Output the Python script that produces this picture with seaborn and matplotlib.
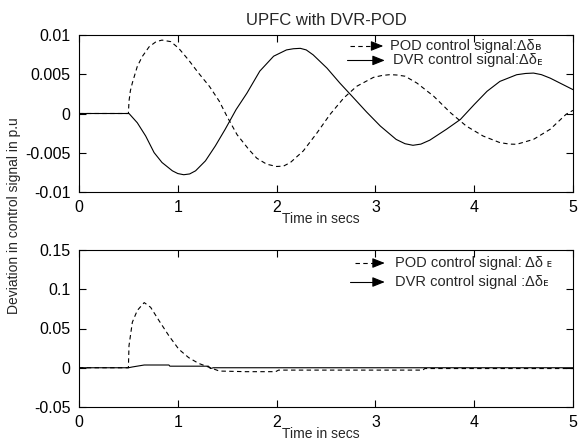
import matplotlib
matplotlib.use("Agg")
import matplotlib.pyplot as plt
import seaborn as sns
import pandas as pd

# ---------------- data ----------------
top_pod_t = [0, 0.5, 0.506, 0.52, 0.54, 0.59, 0.64, 0.71, 0.78, 0.84, 0.93, 1.01, 1.11,
             1.21, 1.32, 1.42, 1.50, 1.60, 1.72, 1.80, 1.90, 2.00, 2.07, 2.14, 2.27, 2.41,
             2.54, 2.68, 2.81, 2.98, 3.07, 3.15, 3.22, 3.30, 3.42, 3.59, 3.76, 3.92, 4.09,
             4.26, 4.36, 4.43, 4.60, 4.77, 4.93, 5.0]
top_pod_v = [0, 0, 1.56e-3, 2.9e-3, 3.9e-3, 6.0e-3, 7.25e-3, 8.5e-3, 9.15e-3, 9.35e-3,
             9.15e-3, 8.3e-3, 6.8e-3, 5.15e-3, 3.46e-3, 1.56e-3, -0.42e-3, -2.7e-3,
             -4.6e-3, -5.7e-3, -6.46e-3, -6.75e-3, -6.7e-3, -6.24e-3, -4.77e-3, -2.45e-3,
             -0.13e-3, 1.98e-3, 3.46e-3, 4.6e-3, 4.85e-3, 4.95e-3, 4.9e-3, 4.75e-3,
             3.88e-3, 2.2e-3, 0.1e-3, -1.6e-3, -2.87e-3, -3.71e-3, -3.9e-3, -3.92e-3,
             -3.3e-3, -2.0e-3, -0.1e-3, 0.4e-3]

top_dvr_t = [0, 0.5, 0.506, 0.59, 0.675, 0.76, 0.84, 0.945, 1.0, 1.06, 1.12, 1.18, 1.28,
             1.38, 1.48, 1.59, 1.70, 1.83, 1.97, 2.10, 2.17, 2.24, 2.30, 2.37, 2.51, 2.64,
             2.78, 2.91, 3.05, 3.21, 3.30, 3.38, 3.46, 3.55, 3.72, 3.86, 4.0, 4.13, 4.26,
             4.43, 4.52, 4.60, 4.68, 4.77, 5.0]
top_dvr_v = [0, 0, 0, -1.18e-3, -2.87e-3, -4.98e-3, -6.24e-3, -7.3e-3, -7.65e-3, -7.8e-3,
             -7.7e-3, -7.3e-3, -6.03e-3, -4.13e-3, -2.0e-3, 0.5e-3, 2.6e-3, 5.4e-3, 7.3e-3,
             8.1e-3, 8.25e-3, 8.3e-3, 8.1e-3, 7.47e-3, 5.78e-3, 3.88e-3, 1.98e-3, 0.2e-3,
             -1.6e-3, -3.3e-3, -3.85e-3, -4.05e-3, -3.9e-3, -3.4e-3, -2.0e-3, -0.76e-3,
             1.14e-3, 2.83e-3, 4.09e-3, 4.94e-3, 5.1e-3, 5.15e-3, 4.95e-3, 4.5e-3, 3.04e-3]

bot_pod_t = [0, 0.5, 0.506, 0.54, 0.59, 0.66, 0.725, 0.81, 0.91, 1.01, 1.11, 1.21,
             1.33, 1.42, 1.69, 1.99, 2.02, 3.48, 3.5, 5.0]
bot_pod_v = [0, 0, 0.028, 0.058, 0.073, 0.083, 0.077, 0.060, 0.0407, 0.0236, 0.0129,
             0.0056, 0, -0.0042, -0.005, -0.005, -0.003, -0.003, -0.001, -0.001]

bot_dvr_t = [0, 0.5, 0.54, 0.66, 0.91, 0.92, 1.31, 1.33, 1.36, 5.0]
bot_dvr_v = [0, 0, 0.001, 0.0035, 0.0035, 0.002, 0.002, -0.001, 0, 0]

x_ticks = [0, 1, 2, 3, 4, 5]
x_labels = ["0", "1", "2", "3", "4", "5"]
top_yticks = [-0.01, -0.005, 0, 0.005, 0.01]
top_ylabels = ["-0.01", "-0.005", "0", "0.005", "0.01"]
bot_yticks = [-0.05, 0, 0.05, 0.1, 0.15]
bot_ylabels = ["-0.05", "0", "0.05", "0.1", "0.15"]

title = "UPFC with DVR-POD"
xlabel = "Time in secs"
ylabel = "Deviation in control signal in p.u"
top_leg = ["POD control signal:Δδ", "DVR control signal:Δδ"]
top_sub = ["ʙ", "ᴇ"]
bot_leg = ["POD control signal: Δδ", "DVR control signal :Δδ"]
bot_sub = [" ᴇ", "ᴇ"]

# ---------------- style ----------------
sns.set_style("ticks")
plt.rcParams["font.family"] = ["Liberation Sans", "DejaVu Sans"]
plt.rcParams["axes.unicode_minus"] = False

W, H = 579, 443
fig = plt.figure(figsize=(W / 100, H / 100), dpi=100)

def frac_axes(x0, y0, x1, y1):
    return fig.add_axes([x0 / W, 1 - y1 / H, (x1 - x0) / W, (y1 - y0) / H])

ax1 = frac_axes(79, 35, 573, 192)
ax2 = frac_axes(79, 250, 573, 407)

dash = (0, (4, 3))
lw = 0.8

sns.lineplot(x=top_pod_t, y=top_pod_v, ax=ax1, color="k", lw=lw, linestyle=dash,
             estimator=None, sort=False)
sns.lineplot(x=top_dvr_t, y=top_dvr_v, ax=ax1, color="k", lw=lw,
             estimator=None, sort=False)
sns.lineplot(x=bot_pod_t, y=bot_pod_v, ax=ax2, color="k", lw=lw, linestyle=dash,
             estimator=None, sort=False)
sns.lineplot(x=bot_dvr_t, y=bot_dvr_v, ax=ax2, color="k", lw=lw,
             estimator=None, sort=False)

for ax, yt, yl, ylim in [(ax1, top_yticks, top_ylabels, (-0.01, 0.01)),
                         (ax2, bot_yticks, bot_ylabels, (-0.05, 0.15))]:
    ax.set_xlim(0, 5)
    ax.set_ylim(*ylim)
    ax.set_xticks(x_ticks, x_labels)
    ax.set_yticks(yt, yl)
    ax.tick_params(direction="in", top=True, right=True, length=5, width=0.8,
                   labelsize=11.5, pad=6, colors="k")
    for s in ax.spines.values():
        s.set_visible(True)
        s.set_linewidth(0.8)
        s.set_color("k")
    ax.set_xlabel(xlabel, fontsize=10)
    ax.set_ylabel("")

ax1.xaxis.set_label_coords(0.49, -0.125)
ax2.xaxis.set_label_coords(0.49, -0.125)
ax1.xaxis.label.set_va("top")
ax2.xaxis.label.set_va("top")

ax1.set_title(title, fontsize=12, pad=7)
fig.text(14 / W, 1 - 216 / H, ylabel, rotation=90, ha="center", va="center",
         fontsize=10)

# ---------------- legend-like annotations ----------------
def leg_row(ax, y, x0, x1, tip, xt, style, text, sub):
    ax.plot([x0, x1], [y, y], transform=ax.transAxes, color="k", lw=lw,
            linestyle=style, clip_on=False)
    ax.annotate("", xy=(tip, y), xytext=(x1 - 0.004, y), xycoords="axes fraction",
                textcoords="axes fraction",
                arrowprops=dict(arrowstyle="-|>,head_length=0.75,head_width=0.3",
                                color="k", lw=lw, shrinkA=0, shrinkB=0))
    t = ax.text(xt, y, text, transform=ax.transAxes, ha="left", va="center",
                fontsize=10.5)
    ax.annotate(sub, xycoords=t, xy=(1, 0.05), ha="left", va="bottom",
                fontsize=8, family=["DejaVu Sans"])

leg_row(ax1, 0.930, 0.5486, 0.598, 0.616, 0.630, dash, top_leg[0], top_sub[0])
leg_row(ax1, 0.838, 0.5425, 0.601, 0.619, 0.636, "-", top_leg[1], top_sub[1])
leg_row(ax2, 0.917, 0.5587, 0.601, 0.619, 0.640, dash, bot_leg[0], bot_sub[0])
leg_row(ax2, 0.796, 0.5480, 0.601, 0.619, 0.640, "-", bot_leg[1], bot_sub[1])

fig.savefig("out.png", dpi=100)
